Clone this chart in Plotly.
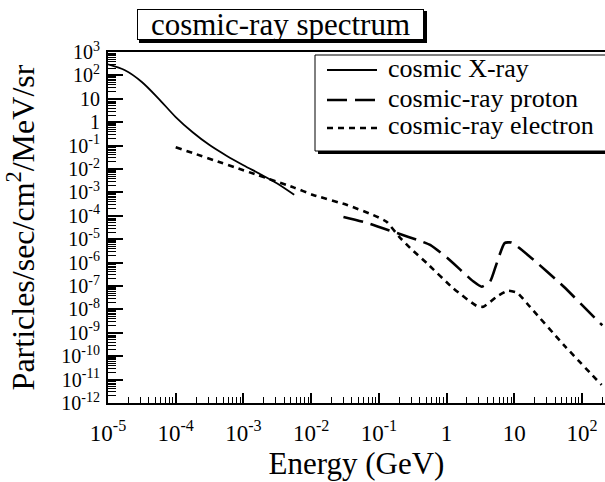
import plotly.graph_objects as go

# ---- data ----
xray_E = [1e-5, 1.78e-5, 3.16e-5, 5.62e-5, 1e-4, 1.78e-4, 3.16e-4, 5.62e-4, 1e-3, 1.78e-3, 3.16e-3, 5.62e-3]
xray_F = [295, 166, 52.5, 10, 1.66, 0.37, 0.105, 0.037, 0.0145, 0.006, 0.0024, 7.9e-4]

proton_E = [0.030, 0.068, 0.17, 0.45, 0.58, 1.02, 2.5, 3.3, 4.4, 5.5, 7.2, 9.1, 17, 54, 166, 200]
proton_F = [8.9e-5, 4.9e-5, 2.0e-5, 7.6e-6, 5.6e-6, 1.6e-6, 1.55e-7, 9.3e-8, 1.55e-7, 9.3e-7, 6.8e-6, 7.2e-6,
            1.8e-6, 9.3e-8, 3.5e-9, 2.1e-9]

electron_E = [1e-4, 5.6e-3, 0.0107, 0.034, 0.083, 0.13, 0.2, 0.29, 0.51, 1.26, 2.8, 3.5, 5.5, 8.1, 11, 17, 54, 195]
electron_F = [0.085, 1.6e-3, 7.8e-4, 2.9e-4, 1.07e-4, 5.6e-5, 1.26e-5, 4.2e-6, 9.5e-7, 7.9e-8, 1.4e-8, 1.3e-8,
              3.5e-8, 6.3e-8, 5.2e-8, 1.3e-8, 3.0e-10, 5.9e-12]

series_names = ["cosmic X-ray", "cosmic-ray proton", "cosmic-ray electron"]
series_dash = ["solid", "20px,8px", "6px,5px"]
series_width = [1.8, 2.6, 2.6]

x_tick_exp = list(range(-5, 3))
y_tick_exp = list(range(-12, 4))


def pow_label(e):
    if e == 0:
        return "1"
    if e == 1:
        return "10"
    return "10<sup>%d</sup>" % e


FONT = "Liberation Serif"
W, H = 605, 482
L, R, T, B = 108, 0, 52, 79


def px_x(p):
    return (p - L) / (W - L - R)


def px_y(p):
    return (H - B - p) / (H - T - B)


fig = go.Figure()
for name, xs, ys, dash, wd, sm in [
    (series_names[0], xray_E, xray_F, series_dash[0], series_width[0], 0.8),
    (series_names[1], proton_E, proton_F, series_dash[1], series_width[1], 0.5),
    (series_names[2], electron_E, electron_F, series_dash[2], series_width[2], 0.5),
]:
    fig.add_trace(go.Scatter(x=xs, y=ys, mode="lines", name=name, showlegend=False,
                             line=dict(color="black", width=wd, dash=dash, shape="spline", smoothing=sm)))

x_minor = [m * 10.0 ** k for k in range(-5, 3) for m in range(2, 10)]
y_minor = [m * 10.0 ** k for k in range(-12, 3) for m in range(2, 10)]

fig.update_xaxes(
    type="log", range=[-5, 2.34], showgrid=False, zeroline=False,
    showline=True, linecolor="black", linewidth=2, mirror=True,
    ticks="inside", ticklen=10, tickwidth=1.5, tickcolor="black",
    tickmode="array", tickvals=[10.0 ** e for e in x_tick_exp], ticktext=[pow_label(e) for e in x_tick_exp],
    minor=dict(ticks="inside", ticklen=6, tickwidth=1.2, tickcolor="black", tickvals=x_minor),
    tickfont=dict(family=FONT, size=23, color="black"), ticklabelstandoff=8,
    title=dict(text="Energy (GeV)", font=dict(family=FONT, size=31, color="black"), standoff=8),
)
fig.update_yaxes(
    type="log", range=[-12, 3], showgrid=False, zeroline=False,
    showline=True, linecolor="black", linewidth=2,
    ticks="inside", ticklen=15, tickwidth=1.5, tickcolor="black",
    tickmode="array", tickvals=[10.0 ** e for e in y_tick_exp], ticktext=[pow_label(e) for e in y_tick_exp],
    minor=dict(ticks="inside", ticklen=8, tickwidth=1.2, tickcolor="black", tickvals=y_minor),
    tickfont=dict(family=FONT, size=20, color="black"), ticklabelstandoff=2,
    title=dict(text="Particles/sec/cm<sup>2</sup>/MeV/sr", font=dict(family=FONT, size=32, color="black"), standoff=17),
)

# title box with shadow
fig.add_shape(type="rect", xref="paper", yref="paper", x0=px_x(139), x1=px_x(427), y0=px_y(11), y1=px_y(43),
              fillcolor="black", line=dict(width=0), layer="above")
fig.add_annotation(text="cosmic-ray spectrum", xref="paper", yref="paper", x=px_x(280.5), y=px_y(24.5),
                   xanchor="center", yanchor="middle", showarrow=False,
                   font=dict(family=FONT, size=31, color="black"),
                   bordercolor="black", borderwidth=1, borderpad=0, bgcolor="white", width=285, height=29)

# legend box with shadow
fig.add_shape(type="rect", xref="paper", yref="paper", x0=px_x(318), x1=px_x(615), y0=px_y(58), y1=px_y(154),
              fillcolor="black", line=dict(width=0), layer="above")
fig.add_shape(type="rect", xref="paper", yref="paper", x0=px_x(315), x1=px_x(612), y0=px_y(55), y1=px_y(151),
              fillcolor="white", line=dict(color="black", width=1), layer="above")
legend_rows = [70, 100, 128]
for name, dash, wd, ry in zip(series_names, series_dash, series_width, legend_rows):
    fig.add_shape(type="line", xref="paper", yref="paper", x0=px_x(327), x1=px_x(377), y0=px_y(ry), y1=px_y(ry),
                  line=dict(color="black", width=wd, dash=dash), layer="above")
    fig.add_annotation(text=name, xref="paper", yref="paper", x=px_x(386), y=px_y(ry - 2),
                       xanchor="left", yanchor="middle", showarrow=False,
                       font=dict(family=FONT, size=26, color="black"))

fig.update_layout(
    width=W, height=H, margin=dict(l=L, r=R, t=T, b=B, autoexpand=False),
    paper_bgcolor="white", plot_bgcolor="white",
    font=dict(family=FONT, color="black"),
    showlegend=False,
)

fig.write_html("out.html")
